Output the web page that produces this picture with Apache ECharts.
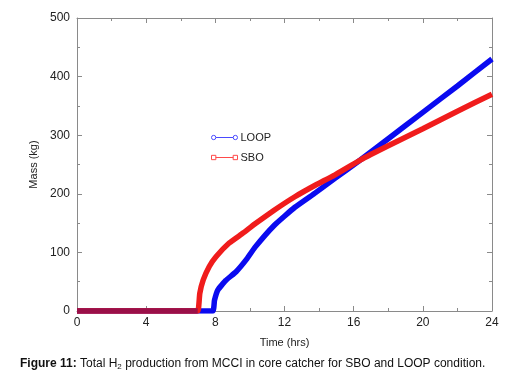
<!DOCTYPE html>
<html>
<head>
<meta charset="utf-8">
<script src="https://cdn.jsdelivr.net/npm/echarts@6/dist/echarts.min.js"></script>
<style>
  html, body { margin: 0; padding: 0; background: #fff; }
  #chart { width: 521px; height: 375px; }
</style>
</head>
<body>
<div id="chart"></div>
<script>
// values (time in hrs, mass in kg)
const loopTime = [0, 7.85, 7.95, 8.15, 8.6, 9.2, 9.8, 10.3, 11.4, 12.6, 13.8, 14.9, 16.4, 18, 20, 22, 24]
const loopMass = [0, 0, 18, 36, 52, 67, 88, 109, 146, 177, 202, 226, 258, 294, 339, 384, 430]
const sboTime = [0, 6.98, 7.05, 7.1, 7.3, 7.65, 8.05, 8.8, 9.6, 10.3, 11.4, 12.6, 13.8, 14.9, 16.4, 18, 20, 22, 24]
const sboMass = [0, 0, 12, 30, 53, 76, 93, 116, 133, 149, 172, 195, 215, 232, 258, 282, 311, 341, 370]

const C = {
  blue: '#0a0af0',
  red: '#f01c1c',
  overlap: '#9a1048', // where the red trace sits on top of the blue one
  axis: '#8a8a8a',
  text: '#222',
}

const pairs = (xs, ys) => xs.map((x, i) => [x, ys[i]])
// the leading zero stretch of SBO, drawn darker like in the figure
const sboFlat = pairs(sboTime, sboMass).filter((p) => p[1] === 0)

const chart = echarts.init(document.getElementById('chart'), null, { renderer: 'canvas' })

const axisBase = {
  axisLine: { show: true, onZero: false, lineStyle: { color: C.axis, width: 1 } },
  axisTick: { show: true, inside: true, length: 5, lineStyle: { color: C.axis } },
  minorTick: { show: true, splitNumber: 2, length: 3, lineStyle: { color: C.axis } },
  splitLine: { show: false },
}

const loopIcon = 'path://M1,4 A2,2 0 1,1 5,4 A2,2 0 1,1 1,4 Z M5,4 L21,4 M21,4 A2,2 0 1,1 25,4 A2,2 0 1,1 21,4 Z'
const sboIcon = 'path://M1,2 L5,2 L5,6 L1,6 Z M5,4 L21,4 M21,2 L25,2 L25,6 L21,6 Z'

chart.setOption({
  animation: false,
  textStyle: { fontFamily: 'Liberation Sans, Arial, sans-serif' },
  title: {
    left: 15,
    top: 352,
    text: '{b|Figure 11:} Total H{s|2} production from MCCI in core catcher for SBO and LOOP condition.',
    textStyle: {
      fontSize: 12,
      fontWeight: 'normal',
      color: '#111',
      rich: {
        b: { fontSize: 12, fontWeight: 'bold', color: '#111' },
        s: { fontSize: 8, color: '#111', padding: [6, 0, 0, 0] },
      },
    },
  },
  legend: {
    orient: 'vertical',
    left: 204,
    top: 127,
    itemWidth: 26,
    itemHeight: 8,
    itemGap: 9,
    textStyle: { fontSize: 11, color: '#222', padding: [0, 0, 0, -2] },
    data: [
      { name: 'LOOP', icon: loopIcon, itemStyle: { color: 'none', borderColor: '#4a4aff', borderWidth: 1 } },
      { name: 'SBO', icon: sboIcon, itemStyle: { color: 'none', borderColor: '#ff4a4a', borderWidth: 1 } },
    ],
  },
  grid: { left: 77, right: 29, top: 18, bottom: 64 },
  xAxis: [
    {
      ...axisBase,
      type: 'value',
      min: 0,
      max: 24,
      interval: 4,
      name: 'Time (hrs)',
      nameLocation: 'middle',
      nameGap: 26,
      nameTextStyle: { fontSize: 11, color: C.text },
      axisLabel: { fontSize: 12, color: C.text, margin: 6 },
    },
    {
      ...axisBase,
      type: 'value',
      position: 'top',
      min: 0,
      max: 24,
      interval: 4,
      axisLabel: { show: false },
    },
  ],
  yAxis: [
    {
      ...axisBase,
      type: 'value',
      min: 0,
      max: 500,
      interval: 100,
      name: 'Mass (kg)',
      nameLocation: 'middle',
      nameGap: 33,
      nameTextStyle: { fontSize: 11, color: C.text },
      axisLabel: { fontSize: 12, color: C.text, margin: 7 },
    },
    {
      ...axisBase,
      type: 'value',
      position: 'right',
      min: 0,
      max: 500,
      interval: 100,
      axisLabel: { show: false },
    },
  ],
  series: [
    {
      name: 'LOOP',
      type: 'line',
      xAxisIndex: 0,
      yAxisIndex: 0,
      data: pairs(loopTime, loopMass),
      showSymbol: false,
      smooth: 0.12,
      lineStyle: { color: C.blue, width: 5.5 },
      itemStyle: { color: C.blue },
    },
    {
      name: 'SBO',
      type: 'line',
      xAxisIndex: 0,
      yAxisIndex: 0,
      data: pairs(sboTime, sboMass),
      showSymbol: false,
      smooth: 0.12,
      lineStyle: { color: C.red, width: 5.5 },
      itemStyle: { color: C.red },
    },
    {
      type: 'line',
      xAxisIndex: 0,
      yAxisIndex: 0,
      data: sboFlat,
      showSymbol: false,
      silent: true,
      lineStyle: { color: C.overlap, width: 5.5 },
    },
  ],
})
</script>
</body>
</html>
